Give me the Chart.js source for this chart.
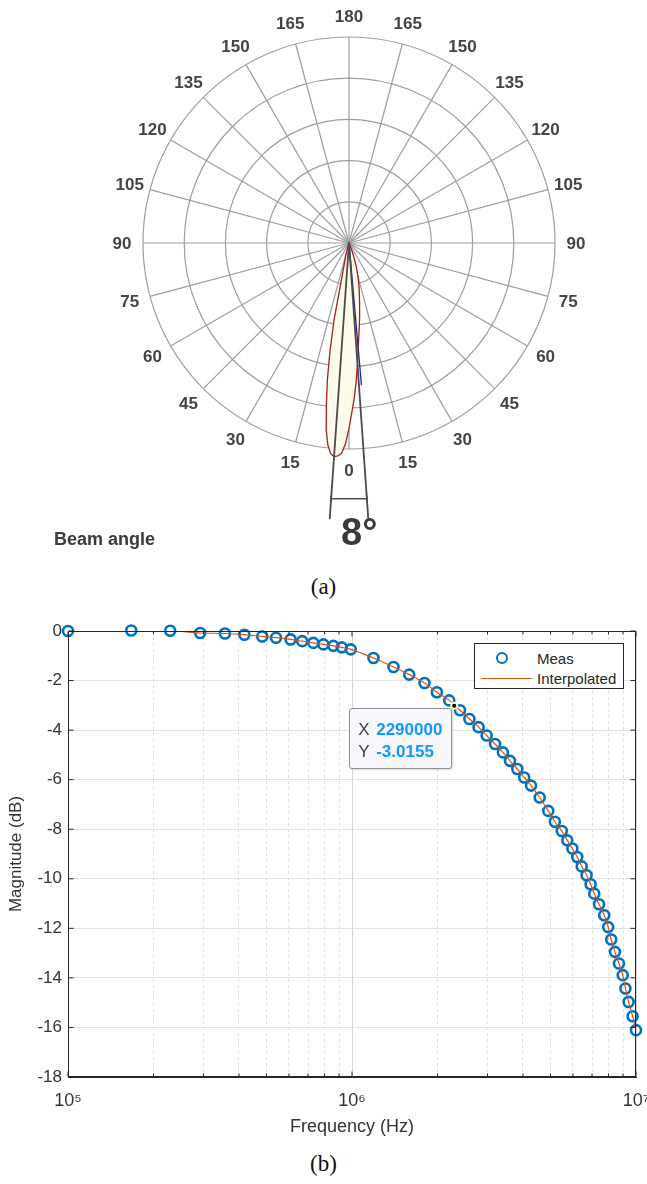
<!DOCTYPE html>
<html>
<head>
<meta charset="utf-8">
<script src="https://cdn.jsdelivr.net/npm/chart.js@4.4.1/dist/chart.umd.min.js"></script>
<style>
  html, body { margin: 0; padding: 0; background: #fff; }
  #page { position: relative; width: 647px; height: 1184px; overflow: hidden; font-family: "Liberation Sans", Arial, Helvetica, sans-serif; }
  canvas { position: absolute; left: 0; }
  #polar { top: 0; }
  #bode { top: 610px; }
  .txt { position: absolute; white-space: nowrap; }
  .caption { left: 0; width: 647px; text-align: center; font-family: "Liberation Serif", "Times New Roman", serif; font-size: 23px; line-height: 26px; color: #111; }
  #beamLabel { left: 54px; top: 530px; font-size: 18px; line-height: 18px; font-weight: bold; color: #3a3a3a; }
  #beamValue { left: 341px; top: 513px; font-size: 38px; line-height: 38px; font-weight: bold; color: #3a3a3a; }
  #legend { position: absolute; width: 148px; height: 44px; border: 1px solid #262626; background: #fff; font-size: 15px; color: #262626; }
  #legend .mark { position: absolute; left: 21px; top: 8px; width: 12px; height: 12px; box-sizing: border-box; border: 2.6px solid #0072BD; border-radius: 50%; }
  #legend .line { position: absolute; left: 6px; top: 34px; width: 51px; border-top: 1.5px solid #D95319; }
  #legend .lab { position: absolute; left: 62px; line-height: 18px; }
  #tip { position: absolute; width: 101px; height: 59px; border: 1px solid #8f8f8f; border-radius: 3px; background: #f7f7fc; box-shadow: 1px 1px 2px rgba(0,0,0,0.15); font-size: 17px; }
  #tip .k { position: absolute; left: 8px; line-height: 20px; color: #404040; }
  #tip .v { position: absolute; left: 26px; line-height: 20px; color: #1199ff; font-weight: bold; }
</style>
</head>
<body>
<div id="page">
  <canvas id="polar" width="647" height="560"></canvas>
  <div class="txt" id="beamLabel">Beam angle</div>
  <div class="txt" id="beamValue"></div>
  <div class="txt caption" style="top:574px">(a)</div>

  <canvas id="bode" width="647" height="540"></canvas>
  <div id="legend">
    <span class="mark"></span><span class="lab" style="top:6px">Meas</span>
    <span class="line"></span><span class="lab" style="top:26px">Interpolated</span>
  </div>
  <div id="tip">
    <span class="k" style="top:11px">X</span><span class="v" id="tipXv" style="top:11px"></span>
    <span class="k" style="top:33px">Y</span><span class="v" id="tipYv" style="top:33px"></span>
  </div>
  <div class="txt caption" style="top:1151px">(b)</div>
</div>

<script>
const FONT = '"Liberation Sans", Arial, Helvetica, sans-serif';

// ---- (a) beam pattern ----
// spoke labels, clockwise from the top
const spokeLabels = ['180', '165', '150', '135', '120', '105', '90', '75', '60', '45', '30', '15',
                     '0', '15', '30', '45', '60', '75', '90', '105', '120', '135', '150', '165'];
// relative intensity by angle off the downward axis (deg, + = right)
const lobeAngles = [-16, -15, -14, -13, -12, -11, -10, -9, -8, -7, -6, -5, -4, -3, -2, -1, 0,
                    1, 2, 3, 4, 5, 6, 7, 8, 9, 10, 11, 12, 13, 14, 15, 16, 17, 18, 19, 20, 21, 22, 23];
const lobeValues = [0, 0.05, 0.07, 0.09, 0.14, 0.38, 0.53, 0.67, 0.79, 0.91, 0.985, 1.025, 1.04, 1.035, 1.02, 0.975, 0.90,
                    0.82, 0.75, 0.67, 0.59, 0.515, 0.455, 0.41, 0.37, 0.33, 0.295, 0.265, 0.24, 0.215, 0.19, 0.165, 0.14, 0.12, 0.097, 0.073, 0.053, 0.034, 0.015, 0];
const axisAngles = [5];
const axisValues = [0.69];
const beamEdgeAngles = [-4, 4];
const beamEdgeValues = [1.34, 1.34];
const bracketLevel = 1.245;

const N = 360;
const toIndex = a => (180 - a + N) % N;
const spread = (angles, values) => {
    const out = new Array(N).fill(0);
    angles.forEach((a, k) => { out[toIndex(a)] = values[k]; });
    return out;
};
const angleLabels = Array.from({length: N}, (_, i) => i % 15 === 0 ? spokeLabels[i / 15] : '');

const polarDecor = {
    id: 'polarDecor',
    afterDraw(chart) {
        const r = chart.scales.r;
        const ctx = chart.ctx;
        ctx.save();
        // spoke labels
        ctx.font = 'bold 17px ' + FONT;
        ctx.fillStyle = '#444';
        ctx.textAlign = 'center';
        ctx.textBaseline = 'middle';
        spokeLabels.forEach((t, k) => {
            const p = r.getPointPosition(k * 15, r.drawingArea + 21);
            ctx.fillText(t, p.x, p.y + 1);
        });
        // beam angle bracket
        const p1 = r.getPointPositionForValue(toIndex(beamEdgeAngles[0]), bracketLevel);
        const p2 = r.getPointPositionForValue(toIndex(beamEdgeAngles[1]), bracketLevel);
        ctx.strokeStyle = '#4d4d4d';
        ctx.lineWidth = 1.5;
        ctx.beginPath();
        ctx.moveTo(p1.x, p1.y); ctx.lineTo(p2.x, p2.y);
        ctx.moveTo(p1.x, p1.y - 3); ctx.lineTo(p1.x, p1.y + 3);
        ctx.moveTo(p2.x, p2.y - 3); ctx.lineTo(p2.x, p2.y + 3);
        ctx.stroke();
        ctx.restore();
    }
};

new Chart(document.getElementById('polar'), {
    type: 'radar',
    data: {
        labels: angleLabels,
        datasets: [
            { label: 'Beam edges', data: spread(beamEdgeAngles, beamEdgeValues), borderColor: '#4a4a4a', borderWidth: 1.8, fill: false },
            { label: 'Axis', data: spread(axisAngles, axisValues), borderColor: '#23239b', borderWidth: 1.3, fill: false },
            { label: 'Intensity', data: spread(lobeAngles, lobeValues), borderColor: '#a32020', borderWidth: 1.3, backgroundColor: '#fdfbe9', fill: 'origin' }
        ]
    },
    options: {
        animation: false,
        responsive: false,
        events: [],
        layout: { padding: { left: 143, right: 92, top: 37, bottom: 111 } },
        elements: {
            point: { radius: 0, hoverRadius: 0 },
            line: { tension: 0, borderJoinStyle: 'round' }
        },
        plugins: { legend: { display: false }, tooltip: { enabled: false } },
        scales: {
            r: {
                min: 0,
                max: 1,
                ticks: { display: false, stepSize: 0.2 },
                pointLabels: { display: false },
                grid: { circular: true, color: '#9e9e9e', lineWidth: 1.2 },
                angleLines: { color: '#9e9e9e', lineWidth: c => c.index % 15 === 0 ? 1.2 : 0 }
            }
        }
    },
    plugins: [polarDecor]
});

document.getElementById('beamValue').textContent = (beamEdgeAngles[1] - beamEdgeAngles[0]) + '°';

// ---- (b) frequency response ----
const measFreqHz = [1.00e5, 1.67e5, 2.29e5, 2.92e5, 3.57e5, 4.18e5, 4.83e5, 5.40e5, 6.08e5, 6.68e5,
                    7.31e5, 7.93e5, 8.60e5, 9.20e5, 9.90e5, 1.19e6, 1.40e6, 1.59e6, 1.80e6, 1.99e6,
                    2.20e6, 2.40e6, 2.59e6, 2.79e6, 2.98e6, 3.19e6, 3.40e6, 3.60e6, 3.82e6, 4.04e6,
                    4.27e6, 4.58e6, 4.91e6, 5.18e6, 5.48e6, 5.73e6, 5.97e6, 6.21e6, 6.44e6, 6.70e6,
                    6.92e6, 7.13e6, 7.41e6, 7.73e6, 7.98e6, 8.18e6, 8.43e6, 8.71e6, 8.98e6, 9.18e6,
                    9.42e6, 9.73e6, 1.00e7];
const measDb = [0.00, 0.02, 0.01, -0.08, -0.10, -0.15, -0.22, -0.27, -0.34, -0.41,
                -0.48, -0.54, -0.60, -0.66, -0.74, -1.09, -1.45, -1.76, -2.10, -2.47,
                -2.80, -3.20, -3.55, -3.88, -4.22, -4.56, -4.90, -5.24, -5.57, -5.91,
                -6.24, -6.72, -7.26, -7.70, -8.07, -8.45, -8.78, -9.12, -9.50, -9.86,
                -10.22, -10.60, -11.03, -11.47, -11.95, -12.45, -12.95, -13.42, -13.89, -14.43,
                -14.97, -15.55, -16.11];
const tipX = 2290000;
const tipY = -3.0155;
const freqLimits = [1e5, 1e7];
const dbLimits = [-18, 0];
const dbStep = 2;

const SUP = {'0': '⁰', '1': '¹', '2': '²', '3': '³', '4': '⁴', '5': '⁵', '6': '⁶', '7': '⁷', '8': '⁸', '9': '⁹'};
const decade = v => Math.round(Math.log10(v));
const isDecade = v => Math.abs(Math.log10(v) - decade(v)) < 1e-9;
const keepWholeSteps = scale => {
    scale.ticks = scale.ticks.filter(t => {
        const p = Math.pow(10, Math.floor(Math.log10(t.value) + 1e-9));
        const m = t.value / p;
        return Math.abs(m - Math.round(m)) < 1e-6;
    });
};

const measPoints = measFreqHz.map((f, i) => ({x: f, y: measDb[i]}));

const framePlugin = {
    id: 'frame',
    afterDatasetsDraw(chart) {
        const {ctx, chartArea: a, scales} = chart;
        const L = Math.round(a.left) + 0.5, R = Math.round(a.right) - 0.5;
        const T = Math.round(a.top) + 0.5, B = Math.round(a.bottom) - 0.5;
        ctx.save();
        ctx.strokeStyle = '#262626';
        ctx.lineWidth = 1;
        ctx.strokeRect(L, T, R - L, B - T);
        ctx.beginPath();
        scales.y.ticks.forEach(t => {
            const y = scales.y.getPixelForValue(t.value);
            ctx.moveTo(L, y); ctx.lineTo(L + 5, y);
            ctx.moveTo(R, y); ctx.lineTo(R - 5, y);
        });
        scales.x.ticks.forEach(t => {
            const x = scales.x.getPixelForValue(t.value);
            const len = t.major ? 5 : 3;
            ctx.moveTo(x, B); ctx.lineTo(x, B - len);
            ctx.moveTo(x, T); ctx.lineTo(x, T + len);
        });
        ctx.stroke();
        ctx.restore();
    }
};

const bode = new Chart(document.getElementById('bode'), {
    type: 'scatter',
    data: {
        datasets: [
            { label: 'Datatip', data: [{x: tipX, y: tipY}], pointRadius: 3, pointBackgroundColor: '#000', pointBorderColor: '#fffbc0', pointBorderWidth: 2, clip: false },
            { label: 'Interpolated', data: measPoints, showLine: true, borderColor: '#D95319', borderWidth: 1.2, pointRadius: 0, cubicInterpolationMode: 'monotone', fill: false },
            { label: 'Meas', data: measPoints, pointRadius: 5, pointBorderWidth: 2.6, pointBorderColor: '#0072BD', pointBackgroundColor: 'rgba(0,0,0,0)', borderColor: '#0072BD', clip: false }
        ]
    },
    options: {
        animation: false,
        responsive: false,
        events: [],
        layout: { padding: { left: 0, right: 11, top: 21, bottom: 0 } },
        plugins: { legend: { display: false }, tooltip: { enabled: false } },
        scales: {
            x: {
                type: 'logarithmic',
                min: freqLimits[0],
                max: freqLimits[1],
                afterBuildTicks: keepWholeSteps,
                afterFit: s => { s.height = 73; s.paddingLeft = 0; s.paddingRight = 0; },
                border: { display: true, color: '#262626', width: 1, dash: [3, 3] },
                grid: { color: c => (c.tick && c.tick.major) ? 'rgba(0,0,0,0)' : '#dedede', lineWidth: 1, drawTicks: false },
                ticks: {
                    autoSkip: false, maxRotation: 0, padding: 13, color: '#333',
                    font: { family: FONT, size: 18 },
                    callback: v => isDecade(v) ? '10' + String(decade(v)).split('').map(d => SUP[d]).join('') : ''
                },
                title: { display: true, text: 'Frequency (Hz)', color: '#333', font: { family: FONT, size: 18 }, padding: { top: 0, bottom: 12 } }
            },
            xMajor: {
                type: 'logarithmic',
                axis: 'x',
                position: 'bottom',
                min: freqLimits[0],
                max: freqLimits[1],
                afterBuildTicks: keepWholeSteps,
                afterFit: s => { s.height = 0; s.paddingLeft = 0; s.paddingRight = 0; },
                border: { display: false },
                grid: { color: c => (c.tick && c.tick.major) ? '#d6d6d6' : 'rgba(0,0,0,0)', lineWidth: 1, drawTicks: false },
                ticks: { display: false, autoSkip: false }
            },
            y: {
                min: dbLimits[0],
                max: dbLimits[1],
                afterFit: s => { s.width = 68; },
                border: { color: '#262626', width: 1 },
                grid: { color: '#e3e3e3', lineWidth: 1, drawTicks: false },
                ticks: { stepSize: dbStep, padding: 6, color: '#333', font: { family: FONT, size: 17 } },
                title: { display: true, text: 'Magnitude (dB)', color: '#333', font: { family: FONT, size: 17 }, padding: { top: 6, bottom: 0 } }
            }
        }
    },
    plugins: [framePlugin]
});

// legend and datatip placed from the chart's own geometry
const area = bode.chartArea;
const canvasTop = 610;
const legend = document.getElementById('legend');
legend.style.left = (area.right - 12 - 150) + 'px';
legend.style.top = (canvasTop + area.top + 12) + 'px';

const tipPx = bode.scales.x.getPixelForValue(tipX);
const tipPy = bode.scales.y.getPixelForValue(tipY);
const tip = document.getElementById('tip');
tip.style.left = (tipPx - 2 - 103) + 'px';
tip.style.top = (canvasTop + tipPy + 2) + 'px';
document.getElementById('tipXv').textContent = String(tipX);
document.getElementById('tipYv').textContent = String(tipY);
</script>
</body>
</html>
